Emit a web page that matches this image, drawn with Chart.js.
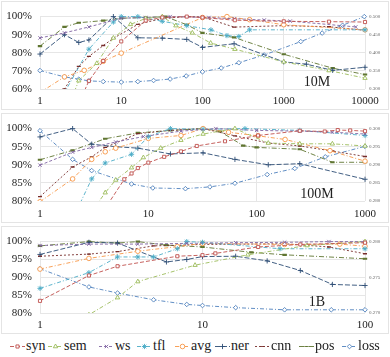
<!DOCTYPE html>
<html>
<head>
<meta charset="utf-8">
<script src="https://cdn.jsdelivr.net/npm/chart.js@4.4.0/dist/chart.umd.min.js"></script>
<style>
  body { margin: 0; background: #fff; width: 390px; height: 357px; position: relative; overflow: hidden; font-family: "Liberation Serif", serif; }
  .panel { position: absolute; left: 1px; width: 386px; border: 1px solid #e4e4e4; }
  .panel canvas { display: block; }
  .tag { position: absolute; font-size: 14px; color: #222; transform: translate(-50%, -50%); white-space: nowrap; }
  .leg { position: absolute; top: 338px; height: 16px; font-size: 14px; color: #222; display: flex; align-items: center; white-space: nowrap; }
  .leg canvas { margin-right: 1px; }
</style>
</head>
<body>
<div class="panel" style="top:1px;height:107px"><canvas id="c10M" width="386" height="107"></canvas></div>
<div class="panel" style="top:113px;height:108px"><canvas id="c100M" width="386" height="108"></canvas></div>
<div class="panel" style="top:226px;height:106px"><canvas id="c1B" width="386" height="106"></canvas></div>
<div class="tag" style="left:317px;top:82px">10M</div>
<div class="tag" style="left:317px;top:194px">100M</div>
<div class="tag" style="left:317px;top:302px">1B</div>
<div id="legend"></div>
<script>
// series names (legend order)
const seriesNames = ['syn', 'sem', 'ws', 'tfl', 'avg', 'ner', 'cnn', 'pos', 'loss'];

// tick labels
const xTicks10M = [1, 10, 100, 1000, 10000];
const xTicks100M = [1, 10, 100, 1000];
const xTicks1B = [1, 10, 100];
const pctTicks10M = [60, 70, 80, 90, 100];
const pctTicks100M = [80, 85, 90, 95, 100];
const pctTicks1B = [80, 85, 90, 95, 100];
const lossTicks10M = [0.3, 0.35, 0.4, 0.45, 0.5];
const lossTicks100M = [0.28, 0.285, 0.29, 0.295, 0.3];
const lossTicks1B = [0.27, 0.275, 0.28];

// 10M panel: [step, %] (loss: [step, loss])
const syn10M = [[1, 20], [2, 38], [3, 52], [4, 64.5], [6, 75.5], [10, 86.3], [20, 97.8], [32, 99.5], [64, 100], [100, 99.5], [250, 98], [1000, 97.4], [3600, 97.2], [10000, 97]];
const sem10M = [[1, 30], [2, 45], [3, 64.6], [5, 74.2], [8, 88.2], [13, 95.7], [20, 99], [32, 100], [47, 95], [75, 91], [126, 85.4], [250, 82], [1000, 75], [3600, 70.2], [10000, 66]];
const ws10M = [[1, 88.2], [2, 91], [4, 94.3], [10, 99.1], [20, 99.5], [40, 100], [120, 99.5], [245, 98.8], [575, 98.1], [1200, 97.5], [7700, 94.3]];
const tfl10M = [[1, 30], [2, 58], [4, 82], [8, 97], [10, 100], [16, 100], [32, 97.4], [64, 95], [127, 92.7], [200, 89.5], [280, 89], [380, 92.7], [10000, 92.7]];
const avg10M = [[1, 58], [2, 66.7], [3.5, 70.3], [6, 75.3], [10, 79.8], [100, 99.5], [200, 100], [380, 98.3], [1000, 95.5], [10000, 92.7]];
const ner10M = [[1, 79.3], [2, 90], [3, 85.7], [4, 87.1], [8, 100], [16, 88.3], [32, 88.1], [64, 87.4], [100, 83], [245, 85], [1000, 75], [1900, 73.7], [4000, 70.3], [10000, 72]];
const cnn10M = [[1, 45], [2, 60], [3, 72.5], [4, 78], [6, 84], [8, 88], [16, 95.7], [32, 99], [64, 100], [100, 99.8], [245, 94.2], [1000, 95], [3600, 94.4], [10000, 92.4]];
const pos10M = [[1, 83.7], [2, 94.3], [3, 96.6], [6, 97.8], [10, 99.1], [20, 99.5], [35, 100], [64, 95.5], [100, 91], [245, 88.5], [1000, 79.2], [4000, 71.5], [10000, 68]];
const loss10M = [[1, 0.351], [2, 0.3335], [3, 0.327], [4, 0.3225], [6, 0.3205], [10, 0.319], [16, 0.3205], [25, 0.3235], [40, 0.3275], [63, 0.336], [100, 0.3475], [170, 0.358], [280, 0.3725], [575, 0.394], [1620, 0.431], [2970, 0.4545], [5300, 0.476], [9800, 0.5]];

// 100M panel
const syn100M = [[3, 70], [4, 78], [6, 86], [7, 87.6], [8, 89.1], [10, 90.6], [14, 92.2], [20, 93.7], [28, 95.2], [51, 96.5], [103, 98.1], [250, 99.4], [425, 99.2], [560, 99.6], [730, 99.5], [1000, 99.3]];
const sem100M = [[2, 65], [3, 77], [4, 82.3], [5, 85.8], [7, 89.2], [9, 92], [13, 94.6], [20, 96.8], [32, 98.5], [63, 100], [128, 96], [250, 95.8], [500, 95.8], [1000, 95.2]];
const ws100M = [[1, 89.9], [2, 93.5], [3, 94.8], [5, 96.3], [9, 97.8], [20, 99.3], [42, 100], [100, 99.5], [250, 99.3], [500, 99], [1000, 98.5]];
const tfl100M = [[1, 60], [2, 75], [3, 86.1], [4, 90.5], [7, 92.9], [10, 97.8], [16, 100], [32, 99.8], [78, 100], [250, 99.5], [1000, 98.1]];
const avg100M = [[1, 79.8], [2, 86.1], [3, 91.5], [4, 93.6], [5, 94.6], [10, 97.3], [20, 98.1], [32, 100], [55, 99], [103, 98], [183, 97], [475, 93.9], [1000, 91]];
const ner100M = [[1, 97.7], [2, 100], [3, 95.7], [5, 95], [8, 94.6], [16, 93], [32, 93.3], [63, 91.5], [128, 90], [250, 90.3], [1000, 86]];
const cnn100M = [[1, 81.2], [2, 89.4], [3, 92.2], [4, 94.8], [8, 98.6], [16, 99.5], [32, 100], [63, 98], [128, 96], [250, 95.2], [500, 93.8], [1000, 92.3]];
const pos100M = [[1, 91.4], [2, 94], [4, 97.2], [8, 98.8], [16, 99.5], [32, 100], [46, 99.2], [75, 95.3], [100, 94.8], [250, 94.3], [500, 90.7], [1000, 90.7]];
const loss100M = [[1, 0.2994], [2, 0.2915], [3, 0.2884], [7, 0.2847], [11, 0.2836], [22, 0.2834], [37, 0.2839], [63, 0.2849], [125, 0.2873], [225, 0.289], [430, 0.2922], [1000, 0.2951]];

// 1B panel
const syn1B = [[1, 83.4], [2, 90.5], [3, 93.1], [7, 95.9], [10, 96.2], [12, 96.7], [22, 98.5], [40, 99.2], [100, 99.7]];
const sem1B = [[1, 70], [2, 79.5], [3, 84.3], [4, 88.8], [9, 93.4], [19, 96.3], [44, 98.9], [100, 100]];
const ws1B = [[1, 98.9], [2, 99.3], [4, 99.3], [8, 99.5], [16, 99.7], [32, 99.8], [60, 100], [100, 100]];
const tfl1B = [[1, 86.9], [2, 91.3], [3, 95.7], [4, 95.7], [5, 95.7], [7, 98], [8, 100], [10, 99.8], [30, 98], [100, 98]];
const avg1B = [[1, 92.3], [2, 95.3], [4, 97.3], [7, 98.6], [10, 99.5], [32, 99.2], [70, 99.3], [100, 98.7]];
const ner1B = [[1, 96.4], [2, 99.8], [3, 99.6], [6, 94.3], [8, 95], [10, 95.8], [16, 95.9], [25, 94.6], [40, 91.9], [63, 88], [100, 87.7]];
const cnn1B = [[1, 95.9], [2, 96.5], [3, 97.2], [5, 98.8], [10, 99.2], [32, 99.4], [60, 98.5], [100, 96.6]];
const pos1B = [[1, 98.8], [2, 100], [3, 99.6], [4, 100], [6, 99], [10, 98.5], [20, 97], [32, 96.3], [100, 95.2]];
const loss1B = [[1, 0.2762], [2, 0.27365], [3, 0.2728], [5, 0.27185], [8, 0.2712], [10, 0.27105], [16, 0.27075], [32, 0.27045], [62, 0.27045], [100, 0.27045]];

// styles
const colors = ['#C0504D', '#9BBB59', '#8064A2', '#4BACC6', '#F79646', '#2C4D75', '#772C2A', '#5F7530', '#4F81BD'];
const dashes = [[4, 2], [4, 2, 1, 2], [3, 2], [4, 2, 1, 2], [4, 2, 1, 2], [5, 2], [2, 2], [5, 2, 1, 2], [4, 2, 1, 2]];
const markers = ['rect', 'triangle', 'crossRot', 'star', 'circle', 'cross', 'line', 'line', 'rectRot'];
const markerSize = [2.2, 2.5, 2.4, 2.6, 2.3, 2.6, 2, 2.2, 2.3];
const markerWidth = [0.9, 0.9, 0.9, 0.9, 0.9, 0.9, 1.4, 2.2, 0.9];

const FONT = '"Liberation Serif", serif';
const GRID = '#e6e6e6';

function buildChart(id, rows, xTicks, pctTicks, lossTicks, top, xh, xpad) {
  const datasets = seriesNames.map((name, i) => ({
    label: name,
    data: rows[i].map(([x, y]) => ({ x, y })),
    yAxisID: name === 'loss' ? 'y2' : 'y',
    borderColor: colors[i],
    borderWidth: 0.9,
    borderDash: dashes[i],
    pointStyle: markers[i],
    pointRadius: markerSize[i],
    pointBorderColor: colors[i],
    pointBackgroundColor: '#fff',
    pointBorderWidth: markerWidth[i],
    fill: false,
    tension: 0,
    clip: { left: 5, top: 5, right: 5, bottom: 0 }
  }));

  return new Chart(document.getElementById(id), {
    type: 'line',
    data: { datasets },
    options: {
      responsive: false,
      animation: false,
      layout: { padding: { top: top, left: 0, right: 0, bottom: 0 } },
      plugins: { legend: { display: false }, tooltip: { enabled: false } },
      scales: {
        x: {
          type: 'logarithmic',
          min: xTicks[0], max: xTicks[xTicks.length - 1],
          afterBuildTicks: s => { s.ticks = xTicks.map(v => ({ value: v })); },
          afterFit: s => { s.height = xh; },
          grid: { color: GRID, drawTicks: false },
          border: { display: false },
          ticks: { padding: xpad, maxRotation: 0, autoSkip: false, color: '#222', font: { family: FONT, size: 11 }, callback: v => String(v) }
        },
        y: {
          position: 'left',
          min: pctTicks[0], max: pctTicks[pctTicks.length - 1],
          afterBuildTicks: s => { s.ticks = pctTicks.map(v => ({ value: v })); },
          afterFit: s => { s.width = 38; },
          grid: { color: GRID, drawTicks: false },
          border: { display: false },
          ticks: { padding: 8, color: '#222', font: { family: FONT, size: 11 }, callback: v => v + '%' }
        },
        y2: {
          position: 'right',
          min: lossTicks[0], max: lossTicks[lossTicks.length - 1],
          afterBuildTicks: s => { s.ticks = lossTicks.map(v => ({ value: v })); },
          afterFit: s => { s.width = 23; },
          grid: { display: false, drawTicks: false },
          border: { display: false },
          ticks: { padding: 4, color: '#666', font: { family: FONT, size: 5 }, callback: v => Number(v).toFixed(3) }
        }
      }
    }
  });
}

buildChart('c10M', [syn10M, sem10M, ws10M, tfl10M, avg10M, ner10M, cnn10M, pos10M, loss10M], xTicks10M, pctTicks10M, lossTicks10M, 10, 20, 6);
buildChart('c100M', [syn100M, sem100M, ws100M, tfl100M, avg100M, ner100M, cnn100M, pos100M, loss100M], xTicks100M, pctTicks100M, lossTicks100M, 9, 21, 7);
buildChart('c1B', [syn1B, sem1B, ws1B, tfl1B, avg1B, ner1B, cnn1B, pos1B, loss1B], xTicks1B, pctTicks1B, lossTicks1B, 9, 20, 6);

// legend: dashed line with marker, then name
const legendLeft = [10, 48, 99, 137, 175, 215, 255, 299, 342];
const legendEl = document.getElementById('legend');
seriesNames.forEach((name, i) => {
  const item = document.createElement('div');
  item.className = 'leg';
  item.style.left = legendLeft[i] + 'px';
  const cv = document.createElement('canvas');
  cv.width = 15; cv.height = 10;
  const ctx = cv.getContext('2d');
  ctx.strokeStyle = colors[i];
  ctx.lineWidth = 0.9;
  ctx.setLineDash(dashes[i]);
  ctx.beginPath(); ctx.moveTo(0, 5.5); ctx.lineTo(15, 5.5); ctx.stroke();
  ctx.setLineDash([]);
  ctx.fillStyle = '#fff';
  if (Chart.helpers && Chart.helpers.drawPoint) {
    Chart.helpers.drawPoint(ctx, { pointStyle: markers[i], radius: markerSize[i], borderWidth: markerWidth[i], rotation: 0 }, 7.5, 5.5);
  }
  const txt = document.createElement('span');
  txt.textContent = name;
  item.appendChild(cv);
  item.appendChild(txt);
  legendEl.appendChild(item);
});
</script>
</body>
</html>
